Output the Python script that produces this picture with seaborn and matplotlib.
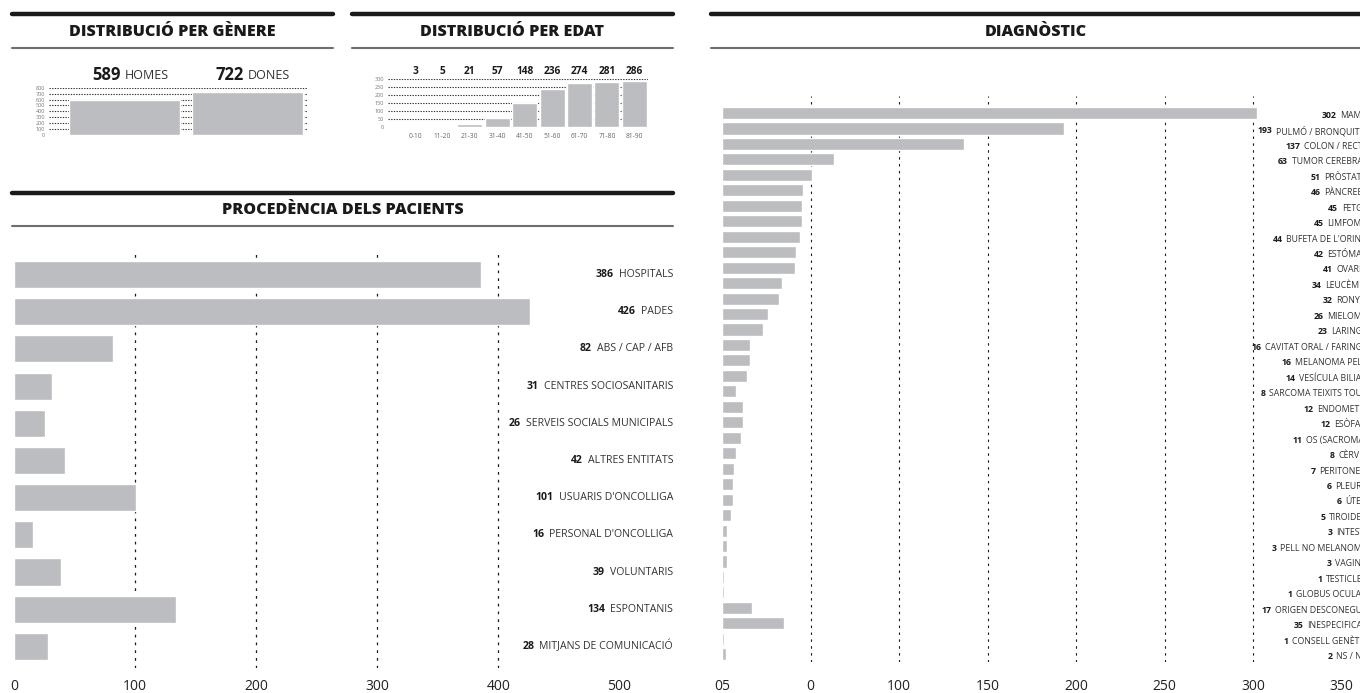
import numpy as np
import pandas as pd
import seaborn as sns
import matplotlib.pyplot as plt
from matplotlib.lines import Line2D

W, H = 1360, 693

# dades
genere_cats = ['HOMES', 'DONES']
genere_vals = [589, 722]

edat_cats = ['0-10', '11-20', '21-30', '31-40', '41-50', '51-60', '61-70', '71-80', '81-90']
edat_vals = [3, 5, 21, 57, 148, 236, 274, 281, 286]

proc_cats = ['HOSPITALS', 'PADES', 'ABS / CAP / AFB', 'CENTRES SOCIOSANITARIS',
             'SERVEIS SOCIALS MUNICIPALS', 'ALTRES ENTITATS', "USUARIS D'ONCOLLIGA",
             "PERSONAL D'ONCOLLIGA", 'VOLUNTARIS', 'ESPONTANIS', 'MITJANS DE COMUNICACIÓ']
proc_vals = [386, 426, 82, 31, 26, 42, 101, 16, 39, 134, 28]

diag_cats = ['MAMA', 'PULMÓ / BRONQUITIS', 'COLON / RECTE', 'TUMOR CEREBRAL', 'PRÒSTATA',
             'PÀNCREES', 'FETGE', 'LIMFOMA', "BUFETA DE L'ORINA", 'ESTÓMAC', 'OVARIS',
             'LEUCÈMIA', 'RONYÓ', 'MIELOMA', 'LARINGE', 'CAVITAT ORAL / FARINGE',
             'MELANOMA PELL', 'VESÍCULA BILIAR', 'SARCOMA TEIXITS TOUS', 'ENDOMETRI',
             'ESÒFAG', 'OS (SACROMA)', 'CÈRVIX', 'PERITONEU', 'PLEURA', 'ÚTER', 'TIROIDES',
             'INTESTÍ', 'PELL NO MELANOMA', 'VAGINA', 'TESTICLES', 'GLOBUS OCULAR',
             'ORIGEN DESCONEGUT', 'INESPECIFICAT', 'CONSELL GENÈTIC', 'NS / NC']
diag_vals = [302, 193, 137, 63, 51, 46, 45, 45, 44, 42, 41, 34, 32, 26, 23, 16, 16, 14, 8,
             12, 12, 11, 8, 7, 6, 6, 5, 3, 3, 3, 1, 1, 17, 35, 1, 2]
diag_ticklabels = ['05', '0', '100', '150', '200', '250', '300', '350']

BAR = '#bcbdc0'
DARK = '#1a1a1a'

sns.set_theme(style='white')
plt.rcParams['font.family'] = ['Open Sans', 'DejaVu Sans']

fig = plt.figure(figsize=(13.6, 6.93), dpi=100)


def box(x0, y0, x1, y1):
    # pixel box (y from top) -> figure fraction
    return [x0 / W, 1 - y1 / H, (x1 - x0) / W, (y1 - y0) / H]


def header(x0, x1, y, title):
    fig.add_artist(Line2D([x0 / W, x1 / W], [1 - y / H] * 2, color=DARK, lw=3.2))
    fig.add_artist(Line2D([x0 / W, x1 / W], [1 - (y + 33.5) / H] * 2, color='#6d6e70', lw=1.5))
    fig.text((x0 + x1) / 2 / W, 1 - (y + 17.5) / H, title, ha='center', va='center',
             fontsize=11.6, fontweight='heavy', color=DARK)


def clean(ax):
    ax.set_xlabel('')
    ax.set_ylabel('')
    sns.despine(ax=ax, left=True, bottom=True)
    ax.set_facecolor('none')


def label(ax, x, y, num, name, size, transform=None, gap=3):
    # nom alineat a la dreta, xifra en negreta just a l'esquerra
    t = ax.text(x, y, name, ha='right', va='center', fontsize=size, color='#333333',
                clip_on=False, transform=transform or ax.transData)
    ax.annotate(str(num), xy=(0, 0.5), xycoords=t, xytext=(-gap, 0),
                textcoords='offset points', ha='right', va='center', fontsize=size,
                fontweight='bold', color=DARK, annotation_clip=False)


header(12, 333, 14, 'DISTRIBUCIÓ PER GÈNERE')
header(352, 673, 14, 'DISTRIBUCIÓ PER EDAT')
header(12, 673, 192.5, 'PROCEDÈNCIA DELS PACIENTS')
header(711, 1360, 14, 'DIAGNÒSTIC')

# --- genere
ax = fig.add_axes(box(49, 87.7, 308, 135))
df = pd.DataFrame({'cat': genere_cats, 'val': genere_vals})
sns.barplot(data=df, x='cat', y='val', color=BAR, saturation=1, width=0.9, ax=ax, zorder=2)
ax.set_ylim(0, 800)
ax.set_xlim(-0.614, 1.49)
for v in range(100, 900, 100):
    ax.axhline(v, color='#333333', lw=0.8, ls=(0, (1.2, 1.2)), zorder=1)
ax.set_yticks(range(0, 900, 100))
ax.tick_params(axis='y', labelsize=4, colors='#777777', length=0, pad=3)
ax.set_xticks([])
clean(ax)
for i, (c, v) in enumerate(zip(genere_cats, genere_vals)):
    ax.text(i - 0.03, 1020, str(v), ha='right', va='center', fontsize=12,
            fontweight='bold', color=DARK, clip_on=False)
    ax.text(i + 0.0, 1000, c, ha='left', va='center', fontsize=9,
            color='#333333', clip_on=False)

# --- edat
ax = fig.add_axes(box(388, 79, 648, 127))
df = pd.DataFrame({'cat': edat_cats, 'val': edat_vals})
sns.barplot(data=df, x='cat', y='val', color=BAR, saturation=1, width=0.91, ax=ax, zorder=2)
ax.set_ylim(0, 300)
ax.set_xlim(-0.985, 8.5)
for v in range(50, 350, 50):
    ax.axhline(v, color='#333333', lw=0.8, ls=(0, (1.2, 1.2)), zorder=1)
ax.set_yticks(range(0, 350, 50))
ax.tick_params(axis='y', labelsize=4, colors='#777777', length=0, pad=3)
ax.tick_params(axis='x', labelsize=4.8, colors='#666666', length=0, pad=4)
clean(ax)
for i, v in enumerate(edat_vals):
    ax.text(i, 350, str(v), ha='center', va='center', fontsize=7.3,
            fontweight='bold', color=DARK, clip_on=False)

# --- procedencia
ax = fig.add_axes(box(14, 251, 673, 668))
df = pd.DataFrame({'cat': proc_cats, 'val': proc_vals})
sns.barplot(data=df, y='cat', x='val', orient='h', color=BAR, saturation=1, width=0.73,
            ax=ax, zorder=2)
ax.set_xlim(0, 659 / 1.211)
ax.set_ylim(10.58, -0.632)
for v in range(100, 500, 100):
    ax.axvline(v, color=DARK, lw=0.9, ls=(0, (2.2, 4)), zorder=1)
ax.set_xticks(range(0, 600, 100))
ax.set_yticks([])
ax.tick_params(axis='x', labelsize=10, colors='#222222', length=0, pad=8)
clean(ax)
for i, (c, v) in enumerate(zip(proc_cats, proc_vals)):
    label(ax, 1.0, i, v, c, 7.6, transform=ax.get_yaxis_transform(), gap=3.5)

# --- diagnostic
ax = fig.add_axes(box(722, 96, 1360, 662))
df = pd.DataFrame({'cat': diag_cats, 'val': diag_vals})
sns.barplot(data=df, y='cat', x='val', orient='h', color=BAR, saturation=1, width=0.78,
            ax=ax, zorder=2)
ax.set_xlim(0, 638 / 1.77)
ax.set_ylim(35.5, -1.1)
for v in range(50, 350, 50):
    ax.axvline(v, color=DARK, lw=0.8, ls=(0, (2.2, 4)), zorder=1)
ax.set_xticks(range(0, 400, 50))
ax.set_xticklabels(diag_ticklabels)
ax.set_yticks([])
ax.tick_params(axis='x', labelsize=10, colors='#222222', length=0, pad=12)
clean(ax)
for i, (c, v) in enumerate(zip(diag_cats, diag_vals)):
    label(ax, 645 / 1.77, i + 0.15, v, c, 6.3, gap=2.5)

fig.savefig('out.png', dpi=100)
